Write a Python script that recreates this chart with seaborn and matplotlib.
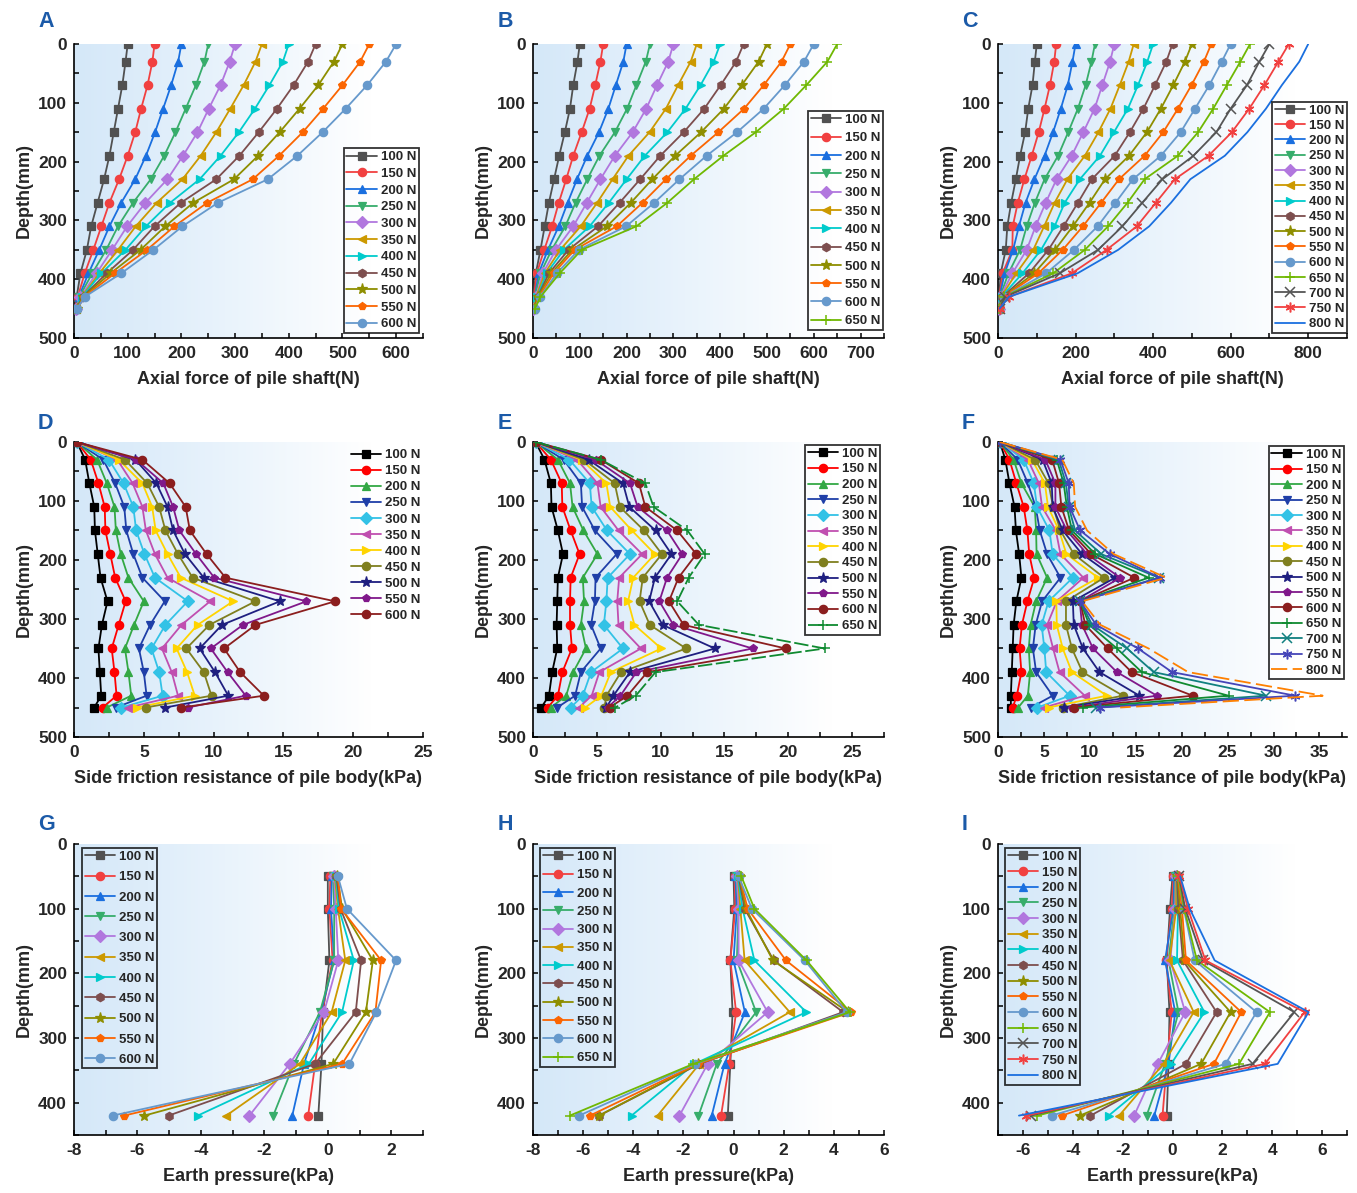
import numpy as np
import pandas as pd
import matplotlib
matplotlib.use("Agg")
import matplotlib.pyplot as plt
import seaborn as sns
from matplotlib.ticker import MultipleLocator

sns.set_theme(style="white")
plt.rcParams["font.family"] = ["Liberation Sans", "DejaVu Sans"]
plt.rcParams["font.weight"] = "bold"
plt.rcParams["axes.labelweight"] = "bold"
plt.rcParams["axes.unicode_minus"] = False

# ---------------- data ----------------
depth_axial = [0, 30, 70, 110, 150, 190, 230, 270, 310, 350, 390, 430, 450]
depth_friction = [0, 30, 70, 110, 150, 190, 230, 270, 310, 350, 390, 430, 450]
depth_earth = [50, 100, 180, 260, 340, 420]

loads_11 = [100, 150, 200, 250, 300, 350, 400, 450, 500, 550, 600]
loads_12 = loads_11 + [650]
loads_15 = loads_12 + [700, 750, 800]

axial_A = [
    [100, 96, 90, 82, 74, 66, 56, 44, 32, 24, 12, 5, 2],
    [150, 146, 137, 125, 114, 100, 84, 66, 51, 36, 20, 7, 2],
    [200, 194, 181, 166, 151, 134, 114, 88, 66, 47, 27, 9, 3],
    [250, 243, 227, 208, 189, 168, 143, 110, 82, 60, 34, 10, 4],
    [300, 290, 273, 251, 230, 203, 174, 133, 99, 71, 42, 12, 4],
    [350, 338, 316, 291, 265, 236, 202, 154, 115, 82, 47, 14, 4],
    [400, 389, 364, 337, 307, 273, 234, 179, 134, 96, 51, 15, 5],
    [450, 436, 409, 378, 344, 308, 265, 199, 150, 110, 61, 16, 5],
    [500, 484, 455, 420, 383, 343, 298, 222, 170, 124, 68, 17, 6],
    [550, 533, 500, 464, 426, 382, 333, 248, 187, 136, 76, 19, 6],
    [600, 581, 546, 506, 463, 416, 361, 268, 202, 148, 88, 20, 6],
]
axial_B = [
    [100, 95, 86, 79, 68, 56, 45, 34, 25, 16, 6, 1, 0.5],
    [150, 144, 133, 121, 104, 86, 71, 55, 41, 24, 8, 2, 1],
    [200, 193, 177, 161, 141, 116, 94, 74, 55, 32, 12, 4, 1],
    [250, 241, 221, 201, 175, 142, 116, 91, 69, 40, 16, 4, 1],
    [300, 289, 265, 242, 213, 175, 144, 115, 86, 49, 21, 6, 1],
    [350, 337, 310, 284, 249, 204, 170, 137, 102, 58, 25, 7, 1],
    [400, 386, 358, 326, 287, 239, 200, 162, 121, 66, 29, 9, 2],
    [450, 434, 401, 366, 322, 272, 229, 185, 139, 76, 34, 10, 2],
    [500, 482, 446, 408, 359, 304, 255, 209, 158, 84, 39, 11, 3],
    [550, 531, 493, 451, 396, 337, 284, 234, 179, 89, 44, 13, 3],
    [600, 579, 538, 493, 436, 371, 313, 259, 199, 98, 51, 15, 4],
    [650, 629, 584, 536, 476, 407, 344, 287, 221, 104, 57, 16, 4],
]
axial_C = [
    [100, 95, 89, 78, 70, 57, 46, 34, 24, 20, 7, 3, 1],
    [150, 145, 134, 120, 105, 87, 68, 51, 38, 37, 12, 3, 1],
    [200, 192, 180, 162, 142, 120, 94, 71, 54, 39, 17, 4, 1],
    [250, 241, 226, 206, 181, 155, 120, 95, 74, 57, 27, 5, 1],
    [300, 289, 269, 249, 220, 190, 151, 123, 97, 74, 37, 6, 2],
    [350, 337, 314, 290, 259, 224, 179, 146, 119, 91, 47, 8, 2],
    [400, 385, 361, 335, 299, 263, 211, 172, 146, 111, 63, 9, 2],
    [450, 434, 405, 375, 340, 301, 242, 206, 169, 130, 80, 11, 3],
    [500, 482, 452, 420, 384, 338, 276, 236, 193, 147, 93, 13, 3],
    [550, 531, 499, 464, 426, 378, 312, 266, 219, 167, 104, 14, 3],
    [600, 577, 545, 508, 471, 420, 348, 303, 257, 196, 124, 15, 3],
    [650, 625, 590, 555, 516, 464, 378, 334, 284, 224, 142, 16, 3],
    [700, 674, 642, 600, 563, 504, 424, 372, 321, 258, 159, 18, 4],
    [750, 723, 687, 648, 603, 543, 456, 407, 358, 280, 190, 28, 4],
    [800, 777, 732, 691, 643, 585, 496, 446, 390, 310, 205, 28, 4],
]
friction_D = [
    [0.2, 0.8, 1.1, 1.45, 1.5, 1.7, 1.9, 2.4, 2.0, 1.75, 1.85, 1.95, 1.45],
    [0.2, 1.2, 1.75, 2.2, 2.25, 2.6, 2.95, 3.7, 3.2, 2.7, 2.9, 3.05, 2.05],
    [0.2, 1.65, 2.35, 2.9, 3.0, 3.35, 3.9, 5.0, 4.3, 3.65, 3.9, 4.1, 2.35],
    [0.2, 2.1, 2.95, 3.6, 3.75, 4.25, 4.9, 6.5, 5.45, 4.65, 5.0, 5.2, 3.0],
    [0.2, 2.5, 3.55, 4.25, 4.45, 5.05, 5.8, 8.15, 6.55, 5.55, 6.1, 6.35, 3.4],
    [0.2, 3.1, 4.2, 4.9, 5.15, 5.8, 6.7, 9.75, 7.7, 6.3, 7.0, 7.45, 3.9],
    [0.2, 3.2, 4.9, 5.6, 5.85, 6.7, 7.65, 11.4, 8.85, 7.35, 8.1, 8.65, 4.5],
    [0.2, 3.65, 5.25, 6.1, 6.55, 7.45, 8.5, 13.0, 9.7, 8.05, 9.3, 9.85, 5.15],
    [0.2, 4.4, 5.9, 6.7, 7.1, 7.95, 9.3, 14.75, 10.6, 9.0, 10.1, 11.05, 6.55],
    [0.2, 4.45, 6.4, 7.1, 7.55, 8.75, 10.05, 16.65, 12.1, 9.8, 11.0, 12.3, 8.15],
    [0.2, 4.9, 6.85, 8.0, 8.3, 9.5, 10.85, 18.7, 13.0, 10.75, 11.9, 13.6, 7.7],
]
friction_E = [
    [0.2, 0.9, 1.4, 1.45, 1.95, 2.35, 1.95, 1.9, 1.85, 1.9, 1.5, 1.25, 0.65],
    [0.2, 1.4, 2.25, 2.3, 2.95, 3.65, 2.95, 2.9, 2.9, 3.05, 2.3, 1.95, 1.15],
    [0.2, 1.95, 2.9, 3.1, 3.95, 5.05, 3.9, 4.0, 3.75, 4.15, 3.15, 2.6, 1.4],
    [0.2, 2.4, 3.75, 3.85, 4.85, 6.55, 4.9, 4.85, 4.55, 5.3, 3.75, 3.3, 1.9],
    [0.2, 2.85, 4.45, 4.6, 5.8, 7.6, 5.85, 5.75, 5.55, 7.05, 4.55, 3.9, 2.95],
    [0.2, 3.45, 5.05, 5.3, 6.7, 8.55, 6.75, 6.6, 6.7, 8.45, 5.2, 4.6, 3.6],
    [0.2, 3.8, 5.75, 6.05, 7.75, 9.55, 7.85, 7.45, 7.95, 10.05, 6.1, 5.35, 4.1],
    [0.2, 4.0, 6.4, 6.8, 8.7, 10.1, 8.6, 8.35, 9.15, 12.0, 6.9, 5.75, 5.6],
    [0.2, 4.35, 7.05, 7.55, 9.6, 10.85, 9.55, 9.1, 10.15, 14.25, 7.6, 6.3, 5.75],
    [0.2, 4.9, 7.6, 8.2, 10.5, 11.7, 10.5, 9.9, 11.0, 17.2, 8.1, 6.85, 5.85],
    [0.2, 5.3, 8.3, 8.8, 11.3, 12.8, 11.4, 10.65, 11.8, 19.8, 8.95, 7.4, 6.0],
    [0.2, 5.3, 8.8, 9.45, 12.1, 13.45, 12.2, 11.3, 13.0, 22.85, 9.6, 8.05, 6.45],
]
friction_F = [
    [0.2, 0.8, 1.25, 1.8, 1.95, 2.3, 2.55, 2.0, 1.7, 1.6, 1.5, 1.4, 1.4],
    [0.2, 1.25, 2.0, 2.8, 3.2, 3.4, 3.95, 3.2, 2.6, 2.35, 2.55, 2.05, 1.6],
    [0.2, 1.7, 2.55, 4.0, 4.15, 4.2, 5.35, 4.15, 3.55, 3.35, 3.5, 3.25, 2.2],
    [0.2, 2.15, 3.25, 4.1, 4.55, 5.35, 6.8, 4.8, 4.1, 3.8, 4.15, 5.95, 3.6],
    [0.2, 2.8, 3.9, 4.25, 5.6, 5.95, 8.15, 5.5, 4.75, 5.05, 5.25, 7.8, 4.3],
    [0.2, 3.25, 4.45, 4.8, 6.3, 6.8, 9.3, 6.4, 5.35, 6.0, 6.7, 9.45, 5.0],
    [0.2, 3.7, 5.1, 5.45, 6.65, 7.45, 10.9, 6.35, 6.4, 7.05, 8.05, 11.85, 5.5],
    [0.2, 4.05, 5.5, 6.0, 6.8, 8.25, 11.55, 7.4, 7.4, 8.05, 9.2, 13.6, 7.05],
    [0.2, 4.85, 5.85, 5.95, 7.05, 9.15, 12.75, 8.15, 8.25, 9.25, 11.05, 15.4, 7.2],
    [0.2, 5.15, 6.25, 6.25, 7.5, 9.7, 13.3, 8.9, 9.15, 10.35, 12.95, 17.3, 8.05],
    [0.2, 5.9, 6.65, 6.9, 7.75, 10.15, 14.85, 8.95, 9.5, 11.95, 14.55, 21.2, 8.25],
    [0.2, 6.4, 7.15, 7.5, 8.05, 10.6, 16.4, 8.95, 9.95, 12.95, 15.65, 25.1, 9.3],
    [0.2, 6.6, 7.4, 7.7, 8.4, 11.25, 17.5, 8.95, 10.25, 14.05, 16.95, 29.2, 10.7],
    [0.2, 6.8, 7.7, 7.8, 8.95, 12.2, 17.65, 8.95, 10.7, 15.25, 18.95, 32.35, 11.15],
    [0.2, 7.0, 8.25, 8.4, 9.7, 12.6, 18.3, 9.15, 11.15, 16.4, 20.7, 35.35, 13.3],
]
earth_G = [
    [0.0, 0.0, 0.05, -0.15, -0.2, -0.3],
    [0.08, 0.05, 0.15, -0.18, -0.4, -0.62],
    [0.13, 0.1, 0.2, -0.22, -0.75, -1.12],
    [0.17, 0.2, 0.2, -0.25, -1.07, -1.72],
    [0.2, 0.25, 0.33, -0.12, -1.2, -2.47],
    [0.22, 0.32, 0.55, 0.12, -0.88, -3.2],
    [0.25, 0.35, 0.82, 0.45, -0.6, -4.1],
    [0.27, 0.4, 1.05, 0.88, -0.4, -5.02],
    [0.3, 0.45, 1.42, 1.2, 0.17, -5.78],
    [0.32, 0.42, 1.68, 1.5, 0.45, -6.42],
    [0.32, 0.6, 2.15, 1.53, 0.68, -6.78],
]
earth_H = [
    [0.0, 0.03, -0.13, -0.04, -0.13, -0.23],
    [0.04, 0.07, -0.13, 0.1, -0.17, -0.5],
    [0.07, 0.13, 0.0, 0.45, -0.36, -0.87],
    [0.1, 0.2, 0.13, 0.9, -0.67, -1.4],
    [0.13, 0.2, 0.2, 1.36, -1.03, -2.16],
    [0.17, 0.27, 0.44, 2.24, -1.36, -3.03],
    [0.17, 0.36, 0.83, 2.9, -1.56, -4.07],
    [0.2, 0.44, 1.6, 4.37, -1.36, -5.36],
    [0.23, 0.49, 1.57, 4.57, -1.4, -5.37],
    [0.24, 0.56, 2.09, 4.69, -1.43, -5.73],
    [0.2, 0.73, 2.84, 4.51, -1.53, -6.16],
    [0.31, 0.83, 2.91, 4.64, -1.6, -6.53],
]
earth_I = [
    [0.0, -0.1, -0.23, -0.12, -0.16, -0.23],
    [0.04, -0.03, -0.26, -0.03, -0.23, -0.4],
    [0.07, 0.04, -0.3, 0.11, -0.16, -0.73],
    [0.11, 0.08, -0.16, 0.24, -0.3, -1.04],
    [0.13, 0.11, -0.09, 0.51, -0.59, -1.54],
    [0.15, 0.15, -0.12, 0.85, -0.36, -2.14],
    [0.18, 0.22, 0.18, 1.28, -0.05, -2.56],
    [0.18, 0.24, 0.42, 1.77, 0.54, -3.29],
    [0.2, 0.31, 0.47, 2.33, 1.15, -3.71],
    [0.22, 0.38, 0.54, 2.76, 1.66, -4.44],
    [0.24, 0.45, 0.89, 3.37, 2.13, -4.85],
    [0.24, 0.47, 0.98, 3.91, 2.67, -5.42],
    [0.27, 0.51, 1.23, 4.89, 3.21, -5.69],
    [0.28, 0.62, 1.32, 5.3, 3.71, -5.87],
    [0.31, 0.69, 1.69, 5.46, 4.22, -6.16],
]

# ---------------- styles ----------------
ast = (6, 2, 0)
markers_modern = {100: "s", 150: "o", 200: "^", 250: "v", 300: "D", 350: "<",
                  400: ">", 450: "h", 500: "*", 550: "p", 600: "o", 650: "+",
                  700: "x", 750: ast, 800: None}
colors_modern = {100: "#515151", 150: "#F14040", 200: "#1A6FDF", 250: "#37AD6B",
                 300: "#B177DE", 350: "#CC9900", 400: "#00CBCC", 450: "#7D4E4E",
                 500: "#8E8E00", 550: "#FB6501", 600: "#6699CC", 650: "#6FB802",
                 700: "#555555", 750: "#F14040", 800: "#1A6FDF"}
markers_classic = {100: "s", 150: "o", 200: "^", 250: "v", 300: "D", 350: "<",
                   400: ">", 450: "o", 500: "*", 550: "p", 600: "o", 650: "+",
                   700: "x", 750: ast, 800: None}
colors_classic = {100: "#000000", 150: "#FF0000", 200: "#33A844", 250: "#1F3FA8",
                  300: "#33C2E6", 350: "#C04FB0", 400: "#FFD400", 450: "#7F7F1F",
                  500: "#1F1F80", 550: "#80188A", 600: "#8B1E1E", 650: "#0F8A30",
                  700: "#118080", 750: "#4545B8", 800: "#FF8000"}
dashes_E = {650: (0, (8, 2))}
dashes_F = {800: (0, (9, 3))}

W, H = 1357, 1193
fig = plt.figure(figsize=(W / 100, H / 100), dpi=100)

cols_px = [(74, 423), (533, 884), (998, 1347)]
rows_px = [(44, 338), (442, 737), (844, 1135)]


def make_ax(r, c):
    x0, x1 = cols_px[c]
    y0, y1 = rows_px[r]
    return fig.add_axes([x0 / W, 1 - y1 / H, (x1 - x0) / W, (y1 - y0) / H])


grad_t = np.linspace(0, 1, 400)


def background(ax):
    t = np.clip(grad_t / 0.85, 0, 1) ** 1.1
    left = np.array([0.835, 0.91, 0.975])
    cols = left[None, :] * (1 - t[:, None]) + np.ones(3)[None, :] * t[:, None]
    ax.imshow(cols[None, :, :], extent=(0, 1, 0, 1), transform=ax.transAxes,
              aspect="auto", zorder=0, interpolation="bilinear")


def draw(ax, values, depths, loads, colors, markers, dashes=None):
    for load, vals in zip(loads, values):
        c = colors[load]
        m = markers[load]
        ms = 6
        if m == "*":
            ms = 8
        elif m in ("+", "x", ast):
            ms = 7
        kw = dict(marker=m, markersize=ms, markeredgecolor=c,
                  markerfacecolor=c, markeredgewidth=0.9 if m not in ("+", "x", ast) else 1.1)
        if m is None:
            kw = dict(marker=None)
        ls = "-"
        if dashes and load in dashes:
            ls = dashes[load]
        df = pd.DataFrame({"value": vals, "depth": depths})
        sns.lineplot(data=df, x="value", y="depth", ax=ax, color=c, linewidth=1.3,
                     sort=False, estimator=None, orient="y", label=f"{load} N",
                     linestyle=ls, legend=False, zorder=3, **kw)


def style_axes(ax, xlim, xmaj, xmin, ylim, ymaj, ymin, xlabel, ylabel):
    ax.set_xlim(*xlim)
    ax.set_ylim(*ylim)
    ax.xaxis.set_major_locator(MultipleLocator(xmaj))
    ax.xaxis.set_minor_locator(MultipleLocator(xmin))
    ax.yaxis.set_major_locator(MultipleLocator(ymaj))
    ax.yaxis.set_minor_locator(MultipleLocator(ymin))
    for s in ["top", "right"]:
        ax.spines[s].set_visible(False)
    for s in ["left", "bottom"]:
        ax.spines[s].set_visible(True)
        ax.spines[s].set_color("black")
        ax.spines[s].set_linewidth(1.2)
    ax.tick_params(which="both", direction="in", length=3.5, width=1.1,
                   color="black", bottom=True, left=True, top=False, right=False)
    ax.tick_params(axis="x", which="major", labelsize=12.5, pad=6)
    ax.tick_params(axis="y", which="major", labelsize=12.5, pad=5)
    for lab in ax.get_xticklabels() + ax.get_yticklabels():
        lab.set_fontweight("bold")
    ax.set_xlabel(xlabel, fontsize=13, fontweight="bold", labelpad=7)
    ax.set_ylabel(ylabel, fontsize=13, fontweight="bold", labelpad=4)
    ax.grid(False)


def add_legend(ax, loc, anchor, spacing, frame=True):
    h, l = ax.get_legend_handles_labels()
    leg = ax.legend(h, l, loc=loc, bbox_to_anchor=anchor, frameon=frame,
                    fancybox=False, edgecolor="black", facecolor="none",
                    labelspacing=spacing, handlelength=2.3,
                    handletextpad=0.3, borderpad=0.2, borderaxespad=0,
                    prop={"weight": "bold", "size": 9.5})
    if frame:
        leg.get_frame().set_linewidth(1.3)
    leg.set_zorder(5)


panels = [
    (0, 0, "A", axial_A, depth_axial, loads_11, "m", None, (0, 650), 100, 50, (500, 0),
     "Axial force of pile shaft(N)", ("lower right", (0.988, 0.017), 0.34, True)),
    (0, 1, "B", axial_B, depth_axial, loads_12, "m", None, (0, 750), 100, 50, (500, 0),
     "Axial force of pile shaft(N)", ("lower right", (0.997, 0.027), 0.46, True)),
    (0, 2, "C", axial_C, depth_axial, loads_15, "m", None, (0, 900), 200, 100, (500, 0),
     "Axial force of pile shaft(N)", ("lower right", (1.0, 0.017), 0.23, True)),
    (1, 0, "D", friction_D, depth_friction, loads_11, "c", None, (0, 25), 5, 2.5, (500, 0),
     "Side friction resistance of pile body(kPa)", ("upper right", (1.0, 0.985), 0.29, False)),
    (1, 1, "E", friction_E, depth_friction, loads_12, "c", dashes_E, (0, 27.5), 5, 2.5, (500, 0),
     "Side friction resistance of pile body(kPa)", ("upper right", (0.989, 0.99), 0.26, True)),
    (1, 2, "F", friction_F, depth_friction, loads_15, "c", dashes_F, (0, 38), 5, 2.5, (500, 0),
     "Side friction resistance of pile body(kPa)", ("upper right", (0.991, 0.986), 0.24, True)),
    (2, 0, "G", earth_G, depth_earth, loads_11, "m", None, (-8, 3), 2, 1, (450, 0),
     "Earth pressure(kPa)", ("upper left", (0.023, 0.986), 0.61, True)),
    (2, 1, "H", earth_H, depth_earth, loads_12, "m", None, (-8, 6), 2, 1, (450, 0),
     "Earth pressure(kPa)", ("upper left", (0.02, 0.986), 0.46, True)),
    (2, 2, "I", earth_I, depth_earth, loads_15, "m", None, (-7, 7), 2, 1, (450, 0),
     "Earth pressure(kPa)", ("upper left", (0.02, 0.986), 0.26, True)),
]

letter_x = [38, 498, 962]
letter_base = [27, 429, 830]

for (r, c, letter, vals, depths, loads, pal, dsh, xlim, xmaj, xmin, ylim, xlabel, lg) in panels:
    ax = make_ax(r, c)
    background(ax)
    if pal == "m":
        draw(ax, vals, depths, loads, colors_modern, markers_modern)
    else:
        draw(ax, vals, depths, loads, colors_classic, markers_classic, dsh)
    style_axes(ax, xlim, xmaj, xmin, ylim, 100, 50, xlabel, "Depth(mm)")
    add_legend(ax, lg[0], lg[1], lg[2], lg[3])
    fig.text(letter_x[c] / W, 1 - letter_base[r] / H, letter, fontsize=15.5,
             fontweight="bold", color="#1B5AA8", ha="left", va="baseline")

fig.savefig("out.png", dpi=100)
